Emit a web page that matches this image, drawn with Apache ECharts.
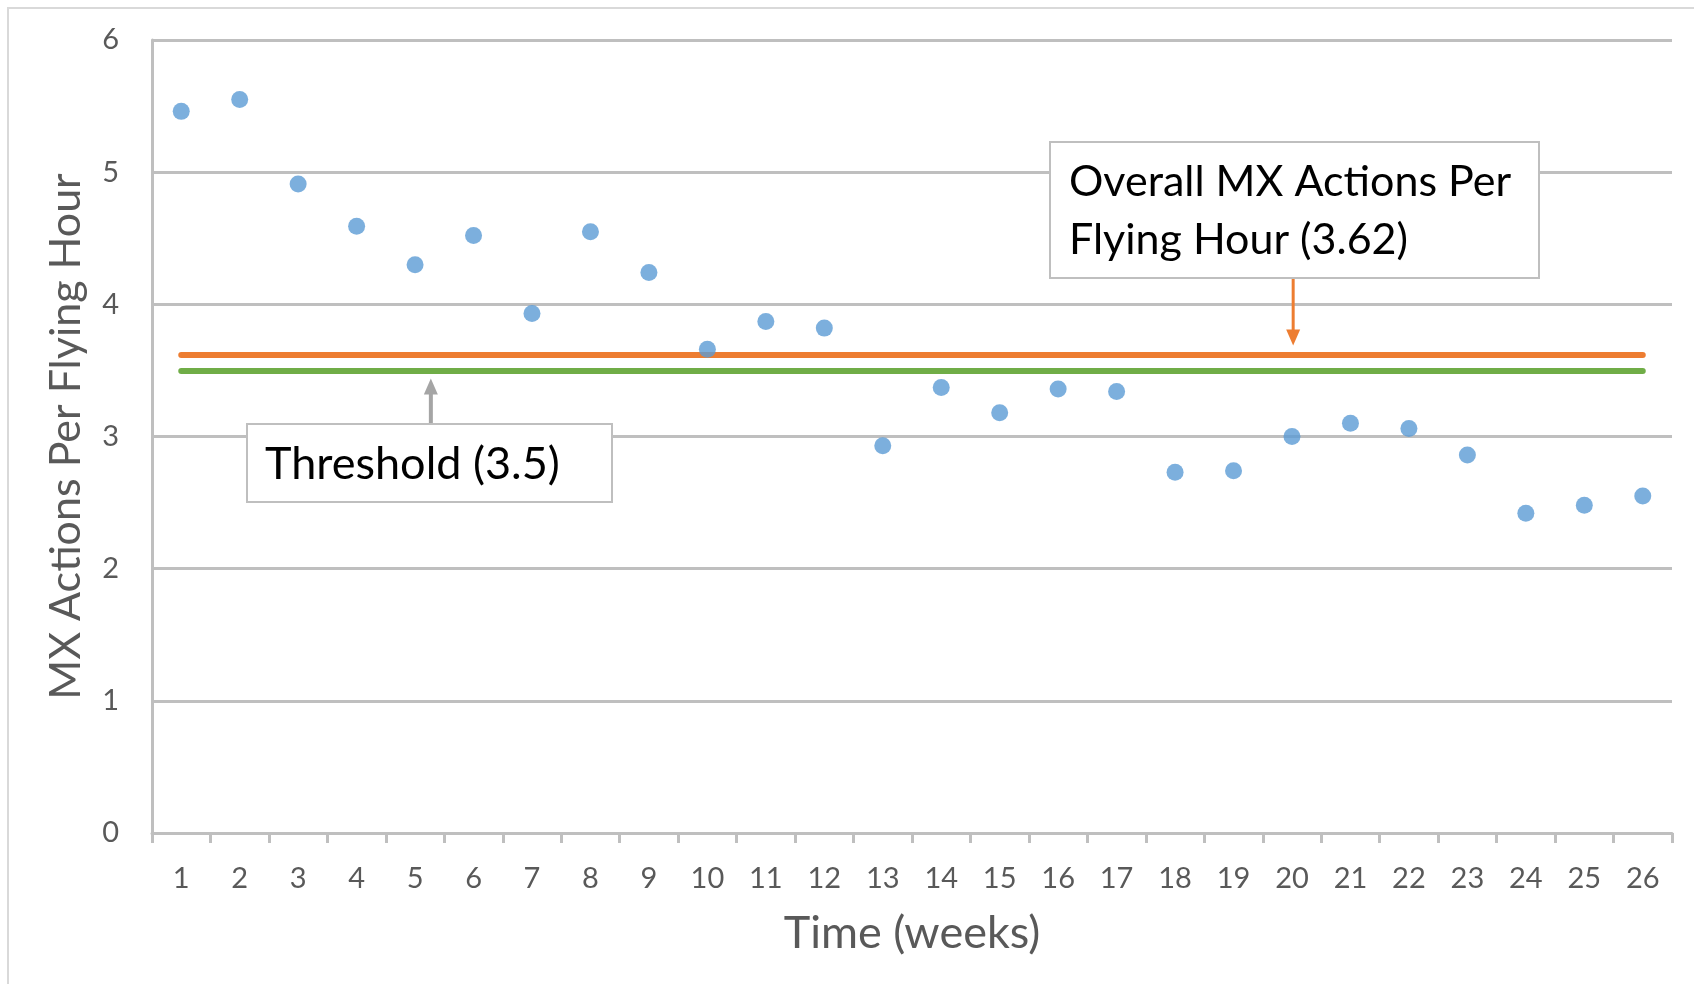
<!DOCTYPE html>
<html>
<head>
<meta charset="utf-8">
<script src="https://cdn.jsdelivr.net/npm/echarts@6/dist/echarts.min.js"></script>
<style>
html,body{margin:0;padding:0;background:#fff;}
#chart{width:1694px;height:984px;}
</style>
</head>
<body>
<div id="chart"></div>
<script>
// ---- data ----
const weeks = ['1','2','3','4','5','6','7','8','9','10','11','12','13','14','15','16','17','18','19','20','21','22','23','24','25','26'];
const mxPerFlyingHour = [5.46,5.55,4.91,4.59,4.30,4.52,3.93,4.55,4.24,3.66,3.87,3.82,2.93,3.37,3.18,3.36,3.34,2.73,2.74,3.00,3.10,3.06,2.86,2.42,2.48,2.55];
const overallAverage = 3.62;
const thresholdValue = 3.5;
const yMin = 0, yMax = 6, yStep = 1;
const xAxisTitle = 'Time (weeks)';
const yAxisTitle = 'MX Actions Per Flying Hour';
const overallLabel = ['Overall MX Actions Per', 'Flying Hour (3.62)'];
const thresholdLabel = 'Threshold (3.5)';

const FONT = 'Lato, "Open Sans", sans-serif';
const GRAY = '#bfbfbf';
const chart = echarts.init(document.getElementById('chart'), null, {renderer: 'canvas'});

chart.setOption({
  animation: false,
  backgroundColor: '#ffffff',
  grid: {left: 152, right: 22, top: 40, bottom: 151},
  xAxis: {
    type: 'category',
    data: weeks,
    boundaryGap: true,
    name: xAxisTitle,
    nameLocation: 'middle',
    nameGap: 78,
    nameTextStyle: {fontFamily: FONT, fontSize: 45, color: '#595959'},
    axisLine: {lineStyle: {color: GRAY, width: 3}},
    axisTick: {show: true, alignWithLabel: false, length: 10, lineStyle: {color: GRAY, width: 3}},
    axisLabel: {fontFamily: FONT, fontSize: 29, color: '#595959', margin: 31},
    splitLine: {show: false}
  },
  yAxis: {
    type: 'value',
    min: yMin, max: yMax, interval: yStep,
    name: yAxisTitle,
    nameLocation: 'middle',
    nameGap: 64,
    nameRotate: 90,
    nameTextStyle: {fontFamily: FONT, fontSize: 43, color: '#595959'},
    axisLine: {show: true, lineStyle: {color: GRAY, width: 3}},
    axisTick: {show: false},
    axisLabel: {fontFamily: FONT, fontSize: 29, color: '#595959', margin: 33},
    splitLine: {show: true, lineStyle: {color: GRAY, width: 3}}
  },
  series: [
    {
      type: 'line',
      data: [],
      z: 1,
      silent: true,
      markLine: {
        silent: true,
        symbol: ['none', 'none'],
        label: {show: false},
        animation: false,
        data: [
          [{coord: [weeks[0], thresholdValue], lineStyle: {color: '#70ad47', width: 6, cap: 'round', type: 'solid'}},
           {coord: [weeks[weeks.length - 1], thresholdValue]}],
          [{coord: [weeks[0], overallAverage], lineStyle: {color: '#ed7d31', width: 6, cap: 'round', type: 'solid'}},
           {coord: [weeks[weeks.length - 1], overallAverage]}]
        ]
      }
    },
    {
      type: 'scatter',
      data: mxPerFlyingHour,
      z: 5,
      symbol: 'circle',
      symbolSize: 17,
      itemStyle: {color: '#5b9bd5'}
    }
  ]
});

// ---- annotations (callout boxes with arrows) ----
function pixelAt(catPos, value) {
  const i = Math.floor(catPos), f = catPos - i;
  const a = chart.convertToPixel({gridIndex: 0}, [i, value]);
  const b = chart.convertToPixel({gridIndex: 0}, [i + 1, value]);
  return [a[0] + (b[0] - a[0]) * f, a[1]];
}
const thrTip = pixelAt(4.27, thresholdValue);
const avgTip = pixelAt(19.02, overallAverage);

function arrowHead(x, tipY, dir, color) {
  // dir = -1 : pointing up, +1 : pointing down
  const w = 7, h = 16;
  return {
    type: 'polygon', silent: true, z: 20,
    shape: {points: [[x, tipY], [x - w, tipY - dir * h], [x + w, tipY - dir * h]]},
    style: {fill: color}
  };
}

const thrBox = {x: 247, y: 424, w: 365, h: 78};
const avgBox = {x: 1050, y: 142, w: 489, h: 136};

chart.setOption({
  graphic: [
    {type: 'rect', silent: true, z: 0, shape: {x: 8, y: 8, width: 1800, height: 1100},
     style: {fill: 'none', stroke: '#d9d9d9', lineWidth: 2}},
    // threshold arrow
    {type: 'line', silent: true, z: 20,
     shape: {x1: thrTip[0], y1: thrBox.y, x2: thrTip[0], y2: thrTip[1] + 22},
     style: {stroke: '#a5a5a5', lineWidth: 4}},
    arrowHead(thrTip[0], thrTip[1] + 8, -1, '#a5a5a5'),
    {type: 'rect', silent: true, z: 20,
     shape: {x: thrBox.x, y: thrBox.y, width: thrBox.w, height: thrBox.h},
     style: {fill: '#ffffff', stroke: '#bfbfbf', lineWidth: 2}},
    {type: 'text', silent: true, z: 21, x: thrBox.x + 18, y: thrBox.y + thrBox.h / 2 + 1,
     style: {text: thresholdLabel, fontFamily: FONT, fontSize: 45, fill: '#000000', verticalAlign: 'middle', align: 'left'}},
    // overall arrow
    {type: 'line', silent: true, z: 20,
     shape: {x1: avgTip[0], y1: avgBox.y + avgBox.h, x2: avgTip[0], y2: avgTip[1] - 20},
     style: {stroke: '#ed7d31', lineWidth: 3}},
    arrowHead(avgTip[0], avgTip[1] - 9, 1, '#ed7d31'),
    {type: 'rect', silent: true, z: 20,
     shape: {x: avgBox.x, y: avgBox.y, width: avgBox.w, height: avgBox.h},
     style: {fill: '#ffffff', stroke: '#bfbfbf', lineWidth: 2}},
    {type: 'text', silent: true, z: 21, x: avgBox.x + 19, y: avgBox.y + 40,
     style: {text: overallLabel[0], fontFamily: FONT, fontSize: 43, fill: '#000000', verticalAlign: 'middle', align: 'left'}},
    {type: 'text', silent: true, z: 21, x: avgBox.x + 19, y: avgBox.y + 98,
     style: {text: overallLabel[1], fontFamily: FONT, fontSize: 43, fill: '#000000', verticalAlign: 'middle', align: 'left'}}
  ]
});
</script>
</body>
</html>
